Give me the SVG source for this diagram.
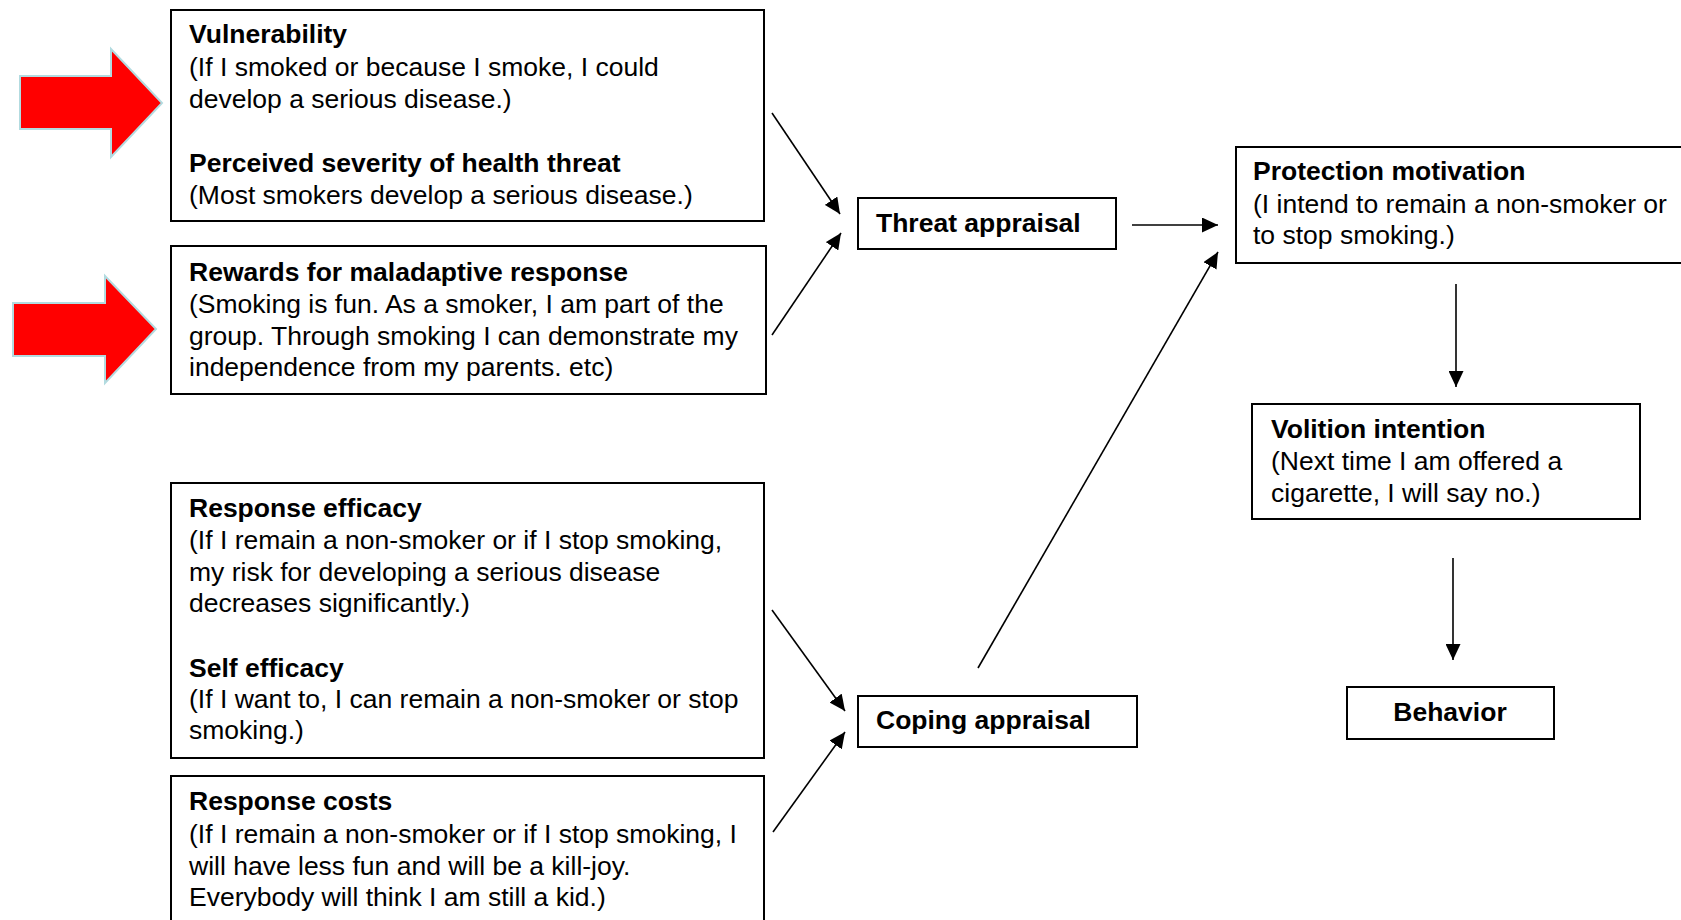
<svg xmlns="http://www.w3.org/2000/svg" width="1681" height="920" viewBox="0 0 1681 920">
<style>
.box{fill:#fff;stroke:#000;stroke-width:2}
text{font-family:"Liberation Sans",Arial,sans-serif;font-size:26.5px;fill:#000}
.b{font-weight:bold}
.con{stroke:#000;stroke-width:1.6;fill:none;marker-end:url(#ah)}
.red{fill:#ff0000;stroke:#b2dbe0;stroke-width:2}
</style>
<defs>
<marker id="ah" viewBox="0 0 16 15" refX="16" refY="7.5" markerWidth="16" markerHeight="15" markerUnits="userSpaceOnUse" orient="auto">
<path d="M0,0 L16,7.5 L0,15 Z" fill="#000"/>
</marker>
</defs>
<rect width="1681" height="920" fill="#fff"/>

<g id="red-arrow-1"><polygon class="red" points="20,76 111,76 111,49 162,103 111,157 111,129 20,129"/></g>
<g id="red-arrow-2"><polygon class="red" points="13,303 105,303 105,276 156,329 105,383 105,356 13,356"/></g>

<g id="vulnerability">
<rect class="box" x="171" y="10" width="593" height="211"/>
<text x="189" y="43" class="b">Vulnerability</text>
<text x="189" y="76">(If I smoked or because I smoke, I could</text>
<text x="189" y="108">develop a serious disease.)</text>
<text x="189" y="172" class="b">Perceived severity of health threat</text>
<text x="189" y="204">(Most smokers develop a serious disease.)</text>
</g>

<g id="rewards">
<rect class="box" x="171" y="246" width="595" height="148"/>
<text x="189" y="281" class="b">Rewards for maladaptive response</text>
<text x="189" y="313">(Smoking is fun. As a smoker, I am part of the</text>
<text x="189" y="345">group. Through smoking I can demonstrate my</text>
<text x="189" y="376">independence from my parents. etc)</text>
</g>

<g id="response-efficacy">
<rect class="box" x="171" y="483" width="593" height="275"/>
<text x="189" y="517" class="b">Response efficacy</text>
<text x="189" y="549">(If I remain a non-smoker or if I stop smoking,</text>
<text x="189" y="581">my risk for developing a serious disease</text>
<text x="189" y="612">decreases significantly.)</text>
<text x="189" y="677" class="b">Self efficacy</text>
<text x="189" y="708">(If I want to, I can remain a non-smoker or stop</text>
<text x="189" y="739">smoking.)</text>
</g>

<g id="response-costs">
<rect class="box" x="171" y="776" width="593" height="160"/>
<text x="189" y="810" class="b">Response costs</text>
<text x="189" y="843">(If I remain a non-smoker or if I stop smoking, I</text>
<text x="189" y="875">will have less fun and will be a kill-joy.</text>
<text x="189" y="906">Everybody will think I am still a kid.)</text>
</g>

<g id="threat-appraisal">
<rect class="box" x="858" y="198" width="258" height="51"/>
<text x="876" y="232" class="b">Threat appraisal</text>
</g>

<g id="coping-appraisal">
<rect class="box" x="858" y="696" width="279" height="51"/>
<text x="876" y="729" class="b">Coping appraisal</text>
</g>

<g id="protection-motivation">
<rect class="box" x="1236" y="147" width="460" height="116"/>
<text x="1253" y="180" class="b">Protection motivation</text>
<text x="1253" y="213">(I intend to remain a non-smoker or</text>
<text x="1253" y="244">to stop smoking.)</text>
</g>

<g id="volition-intention">
<rect class="box" x="1252" y="404" width="388" height="115"/>
<text x="1271" y="438" class="b">Volition intention</text>
<text x="1271" y="470">(Next time I am offered a</text>
<text x="1271" y="502">cigarette, I will say no.)</text>
</g>

<g id="behavior">
<rect class="box" x="1347" y="687" width="207" height="52"/>
<text x="1450" y="721" class="b" text-anchor="middle">Behavior</text>
</g>

<g id="connectors">
<line class="con" x1="772" y1="113" x2="840" y2="214"/>
<line class="con" x1="772" y1="335" x2="841" y2="233"/>
<line class="con" x1="1132" y1="225" x2="1218" y2="225"/>
<line class="con" x1="772" y1="610" x2="845" y2="711"/>
<line class="con" x1="773" y1="832" x2="845" y2="732"/>
<line class="con" x1="978" y1="668" x2="1218" y2="252"/>
<line class="con" x1="1456" y1="284" x2="1456" y2="387"/>
<line class="con" x1="1453" y1="558" x2="1453" y2="660"/>
</g>
</svg>
